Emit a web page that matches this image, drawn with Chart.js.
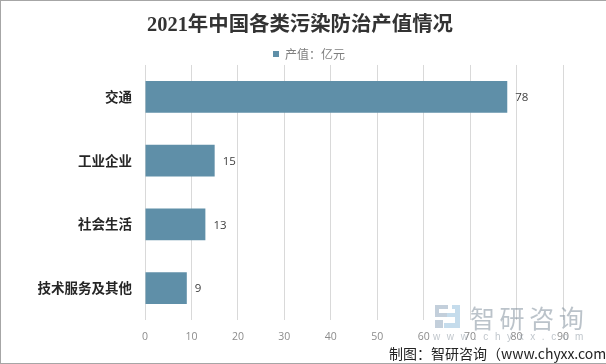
<!DOCTYPE html>
<html>
<head>
<meta charset="utf-8">
<script src="https://cdn.jsdelivr.net/npm/chart.js@4/dist/chart.umd.min.js"></script>
<style>
  html, body { margin: 0; padding: 0; background: #fff; }
  #wrap { position: relative; width: 606px; height: 364px; overflow: hidden; }
  #frame { position: absolute; left: 0; top: 0; width: 606px; height: 362px; border: 1px solid #a6a6a6; border-right: 0; box-sizing: content-box; pointer-events: none; }
  .mark { position: absolute; white-space: nowrap; font-family: "Noto Sans CJK SC", sans-serif; }
  #wm { left: 470px; top: 302px; font-size: 25px; letter-spacing: 4.6px; line-height: 30px; color: rgba(120,135,150,0.5); }
  #wmUrl { left: 433px; top: 330px; font-size: 10px; letter-spacing: 6.6px; line-height: 14px; color: rgba(150,160,170,0.6); font-family: "Liberation Sans", sans-serif; }
  #logo { left: 435px; top: 304px; width: 25px; height: 25px; }
  #source { left: 389px; top: 343px; font-size: 14px; line-height: 20px; color: #222; }
</style>
</head>
<body>
<div id="wrap">
  <canvas id="chart" width="606" height="364"></canvas>
  <svg id="logo" class="mark" viewBox="0 0 25 25">
    <path d="M0 1h13v4H4v4h9v4H0z M0 16h8v8H0z" fill="#c3cfdb"/>
    <path d="M17 1h8v23H9v-5h11V13h-8V9h8V5h-3z" fill="#c5dcec"/>
  </svg>
  <div id="wm" class="mark">智研咨询</div>
  <div id="wmUrl" class="mark">www.chyxx.com</div>
  <div id="source" class="mark">制图：智研咨询（www.chyxx.com）</div>
  <div id="frame"></div>
</div>
<script>
const categories = ["交通", "工业企业", "社会生活", "技术服务及其他"];
const values = [78, 15, 13, 9];
const xTicks = [0, 10, 20, 30, 40, 50, 60, 70, 80, 90];
const seriesName = "产值：亿元";
const chartTitle = "2021年中国各类污染防治产值情况";

// numbers at the end of each bar
const barLabels = {
  id: "barLabels",
  afterDatasetsDraw(chart) {
    const ctx = chart.ctx;
    const bars = chart.getDatasetMeta(0).data;
    ctx.save();
    ctx.font = '11.5px "Open Sans", "Liberation Sans", sans-serif';
    ctx.fillStyle = "#404040";
    ctx.textBaseline = "middle";
    bars.forEach((bar, i) => {
      ctx.fillText(values[i], bar.x + 8, bar.y + 1);
    });
    ctx.restore();
  }
};

// legend sits a little right of and below where chart.js puts it
const legendShift = {
  id: "legendShift",
  afterLayout(chart) {
    chart.legend.left += 9;
    chart.legend.right += 9;
    chart.legend.top += 5;
    chart.legend.bottom += 5;
  }
};

Chart.defaults.animation = false;

new Chart(document.getElementById("chart"), {
  type: "bar",
  plugins: [barLabels, legendShift],
  data: {
    labels: categories,
    datasets: [{
      label: seriesName,
      data: values,
      backgroundColor: "#5f8fa8",
      borderWidth: 0,
      categoryPercentage: 0.5,
      barPercentage: 1
    }]
  },
  options: {
    indexAxis: "y",
    responsive: false,
    layout: { padding: { left: 37, right: 43, top: 0, bottom: 0 } },
    scales: {
      x: {
        min: 0,
        max: 90,
        afterBuildTicks(axis) { axis.ticks = xTicks.map(v => ({ value: v })); },
        afterFit(axis) { axis.height = 44; },
        border: { display: false },
        grid: { color: "#d9d9d9", drawTicks: false },
        ticks: {
          color: "#8c8c8c",
          padding: 11,
          maxRotation: 0,
          font: { size: 10.5, family: '"Open Sans", "Liberation Sans", sans-serif' }
        }
      },
      y: {
        afterFit(axis) { axis.width = 108; },
        border: { display: false },
        grid: { display: false },
        ticks: {
          color: "#262626",
          padding: 5,
          font: { size: 13.5, weight: "bold", family: '"Noto Sans CJK SC", sans-serif' }
        }
      }
    },
    plugins: {
      title: {
        display: true,
        text: chartTitle,
        color: "#333333",
        padding: { top: 13, bottom: 0.5 },
        font: { size: 20.4, weight: "bold", family: '"Liberation Serif", "Noto Sans CJK SC", serif' }
      },
      legend: {
        display: true,
        position: "top",
        labels: {
          color: "#7f7f7f",
          boxWidth: 6,
          boxHeight: 6,
          padding: 5,
          font: { size: 12, family: '"Noto Sans CJK SC", sans-serif' }
        }
      },
      tooltip: { enabled: false }
    }
  }
});
</script>
</body>
</html>
